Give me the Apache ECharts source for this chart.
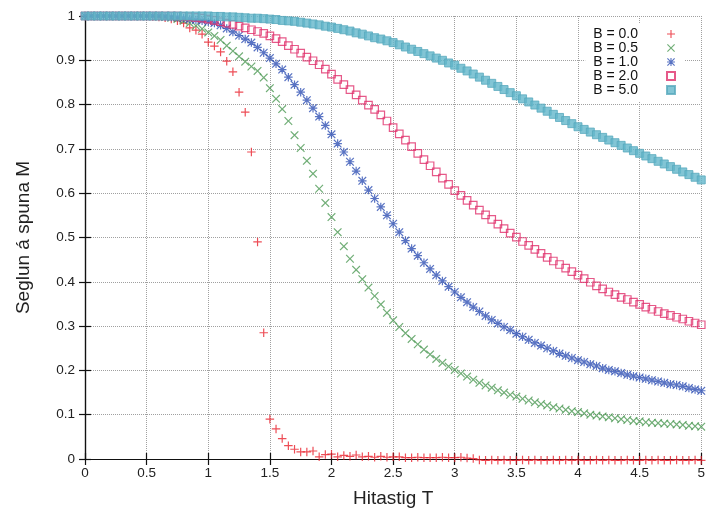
<!DOCTYPE html>
<html>
<head>
<meta charset="utf-8">
<script src="https://cdn.jsdelivr.net/npm/echarts@6/dist/echarts.min.js"></script>
<style>html,body{margin:0;padding:0;background:#fff}#c{width:708px;height:513px}</style>
</head>
<body>
<div id="c"></div>
<script>
// Temperature values (x)
var T = [
0,0.05,0.1,0.15,0.2,0.25,0.3,0.35,0.4,0.45,
0.5,0.55,0.6,0.65,0.7,0.75,0.8,0.85,0.9,0.95,
1,1.05,1.1,1.15,1.2,1.25,1.3,1.35,1.4,1.45,
1.5,1.55,1.6,1.65,1.7,1.75,1.8,1.85,1.9,1.95,
2,2.05,2.1,2.15,2.2,2.25,2.3,2.35,2.4,2.45,
2.5,2.55,2.6,2.65,2.7,2.75,2.8,2.85,2.9,2.95,
3,3.05,3.1,3.15,3.2,3.25,3.3,3.35,3.4,3.45,
3.5,3.55,3.6,3.65,3.7,3.75,3.8,3.85,3.9,3.95,
4,4.05,4.1,4.15,4.2,4.25,4.3,4.35,4.4,4.45,
4.5,4.55,4.6,4.65,4.7,4.75,4.8,4.85,4.9,4.95,
5];
var M_B00 = [
1,1,1,1,1,1,1,1,1,1,
1,0.999,0.998,0.996,0.993,0.989,0.984,0.973,0.968,0.959,
0.941,0.932,0.919,0.898,0.874,0.828,0.783,0.693,0.49,0.285,
0.09,0.068,0.046,0.03,0.022,0.016,0.016,0.018,0.005,0.01,
0.011,0.005,0.008,0.006,0.009,0.005,0.006,0.004,0.006,0.004,
0.005,0.005,0.003,0.003,0.004,0.003,0.003,0.003,0.004,0.003,
0.003,0.004,0.002,0.001,-0.002,-0.003,-0.002,-0.003,-0.002,-0.003,
-0.003,-0.002,-0.003,-0.002,-0.003,-0.003,-0.002,-0.003,-0.002,-0.003,
-0.002,-0.003,-0.003,-0.002,-0.003,-0.002,-0.003,-0.003,-0.002,-0.003,
-0.003,-0.002,-0.003,-0.002,-0.003,-0.003,-0.002,-0.003,-0.003,-0.002,
-0.003];
var M_B05 = [
1,1,1,1,1,1,1,1,1,1,
1,1,0.999,0.998,0.996,0.993,0.989,0.984,0.978,0.971,
0.963,0.955,0.946,0.933,0.921,0.909,0.897,0.886,0.876,0.861,
0.837,0.813,0.79,0.763,0.731,0.702,0.673,0.644,0.61,0.578,
0.546,0.512,0.48,0.452,0.427,0.406,0.387,0.368,0.349,0.33,
0.313,0.298,0.284,0.271,0.259,0.247,0.236,0.226,0.217,0.209,
0.201,0.193,0.186,0.179,0.172,0.166,0.161,0.155,0.15,0.145,
0.141,0.136,0.132,0.128,0.124,0.121,0.117,0.114,0.111,0.108,
0.106,0.103,0.1,0.098,0.096,0.094,0.092,0.09,0.088,0.086,
0.085,0.083,0.082,0.081,0.08,0.079,0.078,0.077,0.075,0.074,
0.073];
var M_B10 = [
1,1,1,1,1,1,1,1,1,1,
1,1,1,0.999,0.998,0.997,0.995,0.993,0.991,0.989,
0.987,0.984,0.979,0.972,0.964,0.956,0.948,0.94,0.929,0.917,
0.905,0.892,0.879,0.862,0.845,0.828,0.81,0.792,0.773,0.753,
0.733,0.712,0.693,0.671,0.65,0.628,0.607,0.588,0.569,0.55,
0.531,0.512,0.493,0.475,0.459,0.443,0.429,0.415,0.402,0.389,
0.377,0.365,0.354,0.343,0.333,0.323,0.314,0.306,0.298,0.291,
0.283,0.276,0.269,0.262,0.256,0.25,0.244,0.238,0.233,0.228,
0.223,0.219,0.214,0.21,0.205,0.201,0.198,0.194,0.19,0.187,
0.184,0.181,0.178,0.175,0.172,0.169,0.167,0.164,0.16,0.157,
0.154];
var M_B20 = [
1,1,1,1,1,1,1,1,1,1,
1,1,1,1,1,1,0.999,0.998,0.997,0.995,
0.993,0.99,0.987,0.984,0.981,0.977,0.973,0.969,0.965,0.961,
0.955,0.949,0.942,0.933,0.925,0.916,0.907,0.899,0.89,0.88,
0.869,0.857,0.845,0.834,0.822,0.81,0.799,0.789,0.777,0.763,
0.748,0.734,0.72,0.705,0.69,0.676,0.662,0.648,0.634,0.62,
0.606,0.595,0.584,0.573,0.562,0.551,0.541,0.53,0.52,0.51,
0.501,0.491,0.482,0.473,0.464,0.455,0.447,0.439,0.431,0.423,
0.415,0.407,0.399,0.391,0.384,0.377,0.371,0.365,0.36,0.354,
0.349,0.343,0.338,0.333,0.328,0.324,0.32,0.316,0.311,0.307,
0.303];
var M_B50 = [
1,1,1,1,1,1,1,1,1,1,
1,1,1,1,1,1,1,1,1,1,
1,0.999,0.999,0.998,0.998,0.997,0.996,0.995,0.995,0.994,
0.993,0.992,0.99,0.989,0.988,0.986,0.984,0.982,0.98,0.977,
0.975,0.972,0.969,0.966,0.962,0.959,0.955,0.951,0.948,0.944,
0.94,0.935,0.93,0.925,0.92,0.915,0.91,0.905,0.9,0.894,
0.889,0.882,0.876,0.869,0.862,0.855,0.848,0.841,0.834,0.827,
0.82,0.813,0.806,0.799,0.792,0.785,0.778,0.771,0.764,0.757,
0.75,0.744,0.738,0.732,0.726,0.72,0.714,0.708,0.702,0.696,
0.69,0.684,0.678,0.672,0.666,0.66,0.654,0.648,0.642,0.636,
0.63];
var seriesNames = ['B = 0.0','B = 0.5','B = 1.0','B = 2.0','B = 5.0'];
var xTicks = [0,0.5,1,1.5,2,2.5,3,3.5,4,4.5,5];
var yTicks = [0,0.1,0.2,0.3,0.4,0.5,0.6,0.7,0.8,0.9,1];

function pairs(ys){ var out=[]; for(var i=0;i<T.length && i<ys.length;i++){ out.push([T[i], ys[i]]); } return out; }

var PLUS = 'path://M0,4.3h10v1.4h-10zM4.3,0h1.4v10h-1.4z';
var CROSS = 'path://M1,0L5,4L9,0L10,1L6,5L10,9L9,10L5,6L1,10L0,9L4,5L0,1z';
var STAR = 'path://M0,4.3h10v1.4h-10zM4.3,0h1.4v10h-1.4zM1,0L5,4L9,0L10,1L6,5L10,9L9,10L5,6L1,10L0,9L4,5L0,1z';

var FONT = 'Liberation Sans';
var chart = echarts.init(document.getElementById('c'), null, {renderer:'canvas'});
var axisCommon = {
  type:'value',
  axisLine:{show:true, lineStyle:{color:'#111', width:1.2}},
  axisTick:{show:true, inside:true, length:6, lineStyle:{color:'#111', width:1.2}},
};
chart.setOption({
  animation:false,
  backgroundColor:'#fff',
  grid:{left:85, right:2, top:16, bottom:54, show:false},
  legend:{
    orient:'vertical', right:24, top:23, align:'right',
    backgroundColor:'#fff', padding:[4,8,4,8],
    itemWidth:8, itemHeight:8, itemGap:0,
    textStyle:{fontFamily:FONT, fontSize:14, color:'#111', lineHeight:14, padding:[0,24,0,0]},
    data:seriesNames
  },
  xAxis:[
    Object.assign({}, axisCommon, {
      min:0, max:5, interval:0.5, position:'bottom',
      axisLabel:{fontFamily:FONT, fontSize:13.5, color:'#222', margin:7, showMaxLabel:true},
      splitLine:{show:true, lineStyle:{type:'dotted', color:'#a0a0a0', width:1}},
      name:'Hitastig T', nameLocation:'middle', nameGap:30,
      nameTextStyle:{fontFamily:FONT, fontSize:19, color:'#222'}
    }),
    Object.assign({}, axisCommon, {
      min:0, max:5, interval:0.5, position:'top',
      axisLabel:{show:false}, splitLine:{show:false}
    })
  ],
  yAxis:[
    Object.assign({}, axisCommon, {
      min:0, max:1, interval:0.1, position:'left',
      axisLabel:{fontFamily:FONT, fontSize:13.5, color:'#222', margin:10},
      splitLine:{show:true, lineStyle:{type:'dotted', color:'#a0a0a0', width:1}},
      name:'Seglun á spuna M', nameLocation:'middle', nameGap:52,
      nameTextStyle:{fontFamily:FONT, fontSize:19, color:'#222'}
    }),
    Object.assign({}, axisCommon, {
      min:0, max:1, interval:0.1, position:'right',
      axisLabel:{show:false}, splitLine:{show:false}
    })
  ],
  series:[
    {name:seriesNames[0], type:'scatter', clip:false, data:pairs(M_B00), symbol:PLUS, symbolSize:8.5,
     itemStyle:{color:'#e8202c'}},
    {name:seriesNames[1], type:'scatter', clip:false, data:pairs(M_B05), symbol:CROSS, symbolSize:8.5,
     itemStyle:{color:'#4e9a55'}},
    {name:seriesNames[2], type:'scatter', clip:false, data:pairs(M_B10), symbol:STAR, symbolSize:8.5,
     itemStyle:{color:'#3050b4'}},
    {name:seriesNames[3], type:'scatter', clip:false, data:pairs(M_B20), symbol:'rect', symbolSize:7.5,
     itemStyle:{color:'rgba(255,255,255,0)', borderColor:'#e0306c', borderWidth:1.2}},
    {name:seriesNames[4], type:'scatter', clip:false, data:pairs(M_B50), symbol:'rect', symbolSize:8,
     itemStyle:{color:'#63b6ca', borderColor:'#58a9bd', borderWidth:1}}
  ]
});
</script>
</body>
</html>
